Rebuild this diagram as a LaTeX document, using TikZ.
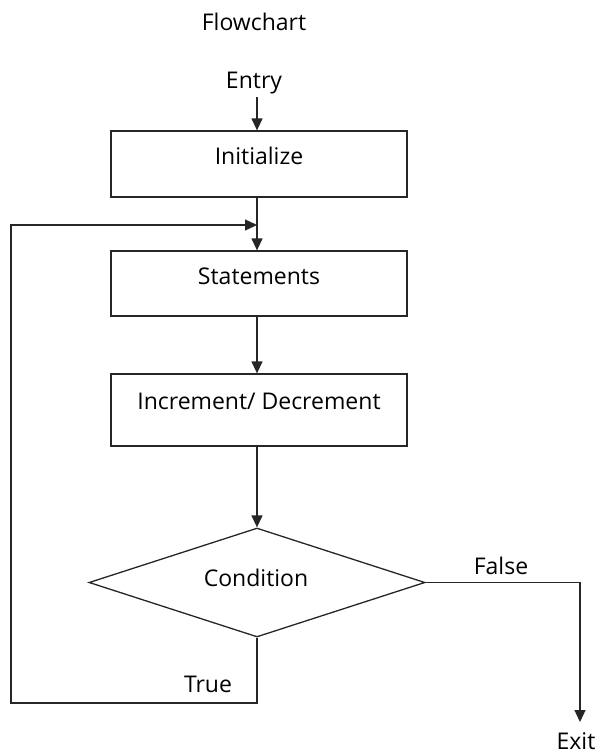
\documentclass[tikz,border=0pt]{standalone}
\usepackage{fontspec}
\setmainfont{Open Sans}
\usetikzlibrary{shapes.geometric,arrows.meta}
\begin{document}
\begin{tikzpicture}[x=1pt,y=-1pt,
  font=\fontsize{23}{26}\selectfont,
  line/.style={line width=1.3pt,draw=black!85},
  arr/.style={line, -{Triangle[length=12pt,width=11pt]}},
  stepbox/.style={line, rectangle, minimum width=296pt, inner sep=0pt},
  decision/.style={line, diamond, aspect=3.1, minimum width=336pt, minimum height=109pt, inner sep=0pt},
  txt/.style={inner sep=0pt}]
\useasboundingbox (0,0) rectangle (598,756);

% headings and terminal labels
\node[txt] (title) at (254,22) {Flowchart};
\node[txt] (entry) at (254,83) {Entry};
\node[txt] (exit)  at (576,741) {Exit};

% process boxes
\node[stepbox, minimum height=66pt,
      label={[txt,yshift=8pt]center:Initialize}] (init) at (259,164) {};
\node[stepbox, minimum height=65pt,
      label={[txt,yshift=7pt]center:Statements}] (stmts) at (259,283.5) {};
\node[stepbox, minimum height=72pt,
      label={[txt,yshift=9pt]center:Increment/ Decrement}] (incr) at (259,410) {};

% loop test
\node[decision] (cond) at (257,582.5) {};
\node[txt] (condtxt) at (256,578) {Condition};

% branch labels
\node[txt] (falselbl) at (501,566) {False};
\node[txt] (truelbl)  at (208,684) {True};

% loop-back route and branch ends
\coordinate (joinpt) at (257,225);
\coordinate (loopBL) at (11,703);
\coordinate (loopTL) at (11,225);
\coordinate (exitend) at (580,722);

% main flow, all on the vertical axis of the diamond
\draw[arr] (cond.north |- 0,97) -- (init.north -| cond.north);
\draw[arr] (init.south -| cond.north) -- (stmts.north -| cond.north);
\draw[arr] (stmts.south -| cond.north) -- (incr.north -| cond.north);
\draw[arr] (incr.south -| cond.north) -- (cond.north);

% true branch back to the top of the loop
\draw[arr] (cond.south) -- (cond.south |- loopBL) -- (loopBL) -- (loopTL) -- (joinpt);

% false branch out of the loop
\draw[arr] (cond.east) -| (exitend);
\end{tikzpicture}
\end{document}
